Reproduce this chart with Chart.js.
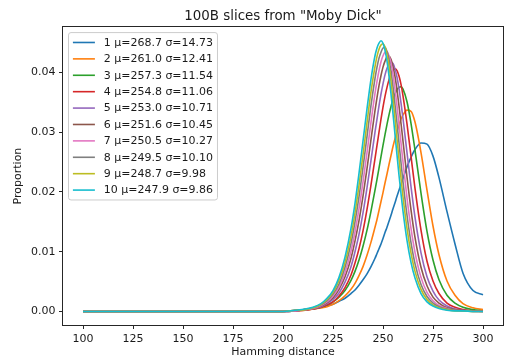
<!DOCTYPE html>
<html>
<head>
<meta charset="utf-8">
<script src="https://cdn.jsdelivr.net/npm/chart.js@4.4.1/dist/chart.umd.min.js"></script>
<style>
  html, body { margin: 0; padding: 0; background: #fff; }
</style>
</head>
<body>
<canvas id="chart" width="506" height="360"></canvas>
<script>
// Hamming distance positions (x) shared by every slice
const hamming = [100, 200, 206, 211, 215, 219, 222, 225, 228, 231, 234, 236, 238, 240, 242, 244, 246, 247, 248, 249,
  250, 251, 252, 253, 254, 255, 256, 257, 258, 259, 260, 262, 264, 266, 269, 272, 275, 278, 282, 286, 290, 295, 300];

const xTickValues = [100, 125, 150, 175, 200, 225, 250, 275, 300];
const yTickValues = [0, 0.01, 0.02, 0.03, 0.04];

const sliceLabels = [
  '1 μ=268.7 σ=14.73', '2 μ=261.0 σ=12.41', '3 μ=257.3 σ=11.54', '4 μ=254.8 σ=11.06', '5 μ=253.0 σ=10.71',
  '6 μ=251.6 σ=10.45', '7 μ=250.5 σ=10.27', '8 μ=249.5 σ=10.10', '9 μ=248.7 σ=9.98', '10 μ=247.9 σ=9.86'
];

// proportion per hamming distance
const slice1 = [0, 0, 0.0002, 0.0003, 0.0005, 0.0007, 0.0009, 0.0012, 0.0017, 0.0022, 0.0030, 0.0036, 0.0044, 0.0053, 0.0063, 0.0075, 0.0089, 0.0097, 0.0105, 0.0113,
  0.0122, 0.0132, 0.0141, 0.0151, 0.0161, 0.0172, 0.0182, 0.0193, 0.0203, 0.0213, 0.0223, 0.0242, 0.0258, 0.0271, 0.0282, 0.0280, 0.0260, 0.0224, 0.0167, 0.0113, 0.0064, 0.0035, 0.0028];
const slice2 = [0, 0, 0.0001, 0.0002, 0.0004, 0.0006, 0.0008, 0.0012, 0.0018, 0.0026, 0.0037, 0.0047, 0.0060, 0.0075, 0.0094, 0.0116, 0.0141, 0.0154, 0.0169, 0.0184,
  0.0199, 0.0215, 0.0230, 0.0246, 0.0261, 0.0276, 0.0289, 0.0301, 0.0312, 0.0322, 0.0329, 0.0337, 0.0335, 0.0317, 0.0266, 0.0203, 0.0143, 0.0095, 0.0051, 0.0027, 0.0013, 0.0006, 0.0003];
const slice3 = [0, 0, 0.0001, 0.0003, 0.0004, 0.0007, 0.0011, 0.0016, 0.0024, 0.0035, 0.0052, 0.0067, 0.0086, 0.0109, 0.0136, 0.0168, 0.0203, 0.0221, 0.0240, 0.0259,
  0.0278, 0.0296, 0.0313, 0.0329, 0.0343, 0.0355, 0.0364, 0.0371, 0.0375, 0.0376, 0.0372, 0.0351, 0.0315, 0.0270, 0.0198, 0.0134, 0.0086, 0.0053, 0.0027, 0.0014, 0.0007, 0.0003, 0.0001];
const slice4 = [0, 0, 0.0001, 0.0002, 0.0004, 0.0007, 0.0011, 0.0016, 0.0026, 0.0040, 0.0061, 0.0081, 0.0105, 0.0135, 0.0171, 0.0212, 0.0256, 0.0278, 0.0300, 0.0322,
  0.0342, 0.0360, 0.0375, 0.0388, 0.0398, 0.0404, 0.0406, 0.0403, 0.0394, 0.0380, 0.0361, 0.0314, 0.0260, 0.0206, 0.0136, 0.0084, 0.0051, 0.0030, 0.0014, 0.0007, 0.0003, 0.0001, 0.0001];
const slice5 = [0, 0, 0.0001, 0.0003, 0.0005, 0.0008, 0.0013, 0.0020, 0.0031, 0.0049, 0.0075, 0.0100, 0.0129, 0.0165, 0.0207, 0.0253, 0.0300, 0.0322, 0.0344, 0.0364,
  0.0381, 0.0396, 0.0407, 0.0414, 0.0417, 0.0415, 0.0406, 0.0392, 0.0373, 0.0349, 0.0323, 0.0266, 0.0209, 0.0158, 0.0098, 0.0058, 0.0034, 0.0019, 0.0009, 0.0004, 0.0002, 0.0001, 0];
const slice6 = [0, 0, 0.0001, 0.0003, 0.0005, 0.0009, 0.0015, 0.0023, 0.0037, 0.0058, 0.0089, 0.0118, 0.0152, 0.0193, 0.0239, 0.0288, 0.0336, 0.0358, 0.0378, 0.0395,
  0.0409, 0.0419, 0.0426, 0.0427, 0.0422, 0.0410, 0.0393, 0.0371, 0.0344, 0.0315, 0.0285, 0.0225, 0.0170, 0.0124, 0.0074, 0.0043, 0.0024, 0.0014, 0.0006, 0.0003, 0.0002, 0.0001, 0];
const slice7 = [0, 0, 0.0001, 0.0003, 0.0005, 0.0010, 0.0016, 0.0026, 0.0041, 0.0065, 0.0101, 0.0133, 0.0172, 0.0217, 0.0266, 0.0317, 0.0365, 0.0385, 0.0403, 0.0418,
  0.0428, 0.0434, 0.0435, 0.0428, 0.0416, 0.0397, 0.0372, 0.0344, 0.0313, 0.0282, 0.0250, 0.0190, 0.0139, 0.0099, 0.0057, 0.0032, 0.0018, 0.0010, 0.0005, 0.0002, 0.0001, 0, 0];
const slice8 = [0, 0, 0.0002, 0.0003, 0.0006, 0.0011, 0.0018, 0.0029, 0.0046, 0.0074, 0.0114, 0.0150, 0.0192, 0.0241, 0.0293, 0.0345, 0.0390, 0.0409, 0.0424, 0.0434,
  0.0441, 0.0442, 0.0435, 0.0422, 0.0401, 0.0376, 0.0346, 0.0315, 0.0282, 0.0249, 0.0217, 0.0161, 0.0115, 0.0080, 0.0045, 0.0025, 0.0014, 0.0008, 0.0004, 0.0002, 0.0001, 0, 0];
const slice9 = [0, 0, 0.0002, 0.0003, 0.0006, 0.0012, 0.0020, 0.0032, 0.0052, 0.0082, 0.0126, 0.0165, 0.0211, 0.0262, 0.0316, 0.0368, 0.0410, 0.0427, 0.0439, 0.0446,
  0.0448, 0.0443, 0.0430, 0.0411, 0.0385, 0.0355, 0.0323, 0.0289, 0.0255, 0.0223, 0.0192, 0.0139, 0.0098, 0.0067, 0.0037, 0.0020, 0.0011, 0.0006, 0.0003, 0.0001, 0.0001, 0, 0];
const slice10 = [0, 0, 0.0002, 0.0004, 0.0007, 0.0013, 0.0022, 0.0035, 0.0057, 0.0091, 0.0139, 0.0181, 0.0231, 0.0285, 0.0339, 0.0389, 0.0428, 0.0441, 0.0449, 0.0453,
  0.0449, 0.0437, 0.0419, 0.0394, 0.0364, 0.0331, 0.0296, 0.0262, 0.0228, 0.0197, 0.0168, 0.0119, 0.0082, 0.0056, 0.0030, 0.0016, 0.0009, 0.0005, 0.0002, 0.0001, 0.0001, 0, 0];

const sliceSeries = [slice1, slice2, slice3, slice4, slice5, slice6, slice7, slice8, slice9, slice10];
const sliceColors = ['#1f77b4', '#ff7f0e', '#2ca02c', '#d62728', '#9467bd', '#8c564b', '#e377c2', '#7f7f7f', '#bcbd22', '#17becf'];

const FONT = 'DejaVu Sans';
const TEXT = '#1a1a1a';

const datasets = sliceSeries.map((vals, i) => ({
  label: sliceLabels[i],
  data: vals.map((y, j) => ({ x: hamming[j], y: y })),
  borderColor: sliceColors[i],
  backgroundColor: sliceColors[i],
  borderWidth: 1.6,
  pointRadius: 0,
  fill: false,
  cubicInterpolationMode: 'monotone',
  order: sliceSeries.length - i   // last slice on top, like matplotlib
}));

// box around the axes + matplotlib style legend in the upper left
const frameLegend = {
  id: 'frameLegend',
  afterDraw(chart) {
    const ctx = chart.ctx;
    const a = chart.chartArea;
    ctx.save();
    ctx.strokeStyle = '#262626';
    ctx.lineWidth = 1;
    const l = Math.round(a.left) - 0.5, t = Math.round(a.top) - 0.5;
    const r = Math.round(a.right) + 0.5, b = Math.round(a.bottom) + 0.5;
    ctx.strokeRect(l, t, r - l, b - t);

    const fs = 11;
    ctx.font = fs + 'px "' + FONT + '"';
    const dsets = chart.data.datasets;
    let maxW = 0;
    dsets.forEach(d => { maxW = Math.max(maxW, ctx.measureText(d.label).width); });
    const bx = a.left + 5.5, by = a.top + 5.5;
    const pad = 4.4, rowH = 16.4;
    const textX = bx + pad + 22 + 8.8;
    const bw = textX + maxW + pad - bx;
    const bh = pad * 2 + rowH * (dsets.length - 1) + 11;
    ctx.beginPath();
    ctx.roundRect(bx, by, bw, bh, 2.5);
    ctx.fillStyle = 'rgba(255,255,255,0.8)';
    ctx.fill();
    ctx.strokeStyle = '#cccccc';
    ctx.stroke();

    dsets.forEach((d, i) => {
      const y = by + pad + 5.5 + i * rowH;
      ctx.beginPath();
      ctx.moveTo(bx + pad, y);
      ctx.lineTo(bx + pad + 22, y);
      ctx.strokeStyle = d.borderColor;
      ctx.lineWidth = 1.6;
      ctx.stroke();
      ctx.fillStyle = TEXT;
      ctx.textBaseline = 'middle';
      ctx.textAlign = 'left';
      ctx.fillText(d.label, textX, y + 0.5);
    });
    ctx.restore();
  }
};

new Chart(document.getElementById('chart'), {
  type: 'line',
  data: { datasets: datasets },
  options: {
    responsive: false,
    animation: false,
    layout: { padding: { left: 0, right: 3, top: 0, bottom: 0 } },
    plugins: {
      legend: { display: false },
      tooltip: { enabled: false },
      title: {
        display: true,
        text: '100B slices from "Moby Dick"',
        fullSize: false,
        color: TEXT,
        font: { family: FONT, size: 13.4, weight: 'normal' },
        padding: { top: 8, bottom: 3 }
      }
    },
    scales: {
      x: {
        type: 'linear',
        min: 90,
        max: 310,
        afterBuildTicks: s => { s.ticks = xTickValues.map(v => ({ value: v })); },
        afterFit: s => { s.height = 35; },
        border: { display: false },
        grid: { drawOnChartArea: false, drawTicks: true, tickLength: 4, color: '#262626' },
        ticks: { color: TEXT, font: { family: FONT, size: 11 }, padding: 3.5, maxRotation: 0 },
        title: { display: true, text: 'Hamming distance', color: TEXT, font: { family: FONT, size: 11 }, padding: { top: 2, bottom: 1 } }
      },
      y: {
        type: 'linear',
        min: -0.00227,
        max: 0.0476,
        afterBuildTicks: s => { s.ticks = yTickValues.map(v => ({ value: v })); },
        afterFit: s => { s.width = 63; },
        border: { display: false },
        grid: { drawOnChartArea: false, drawTicks: true, tickLength: 4, color: '#262626' },
        ticks: { color: TEXT, font: { family: FONT, size: 11 }, padding: 3.5, callback: v => Number(v).toFixed(2) },
        title: { display: true, text: 'Proportion', color: TEXT, font: { family: FONT, size: 11 }, padding: { top: 12, bottom: 2 } }
      }
    }
  },
  plugins: [frameLegend]
});
</script>
</body>
</html>
